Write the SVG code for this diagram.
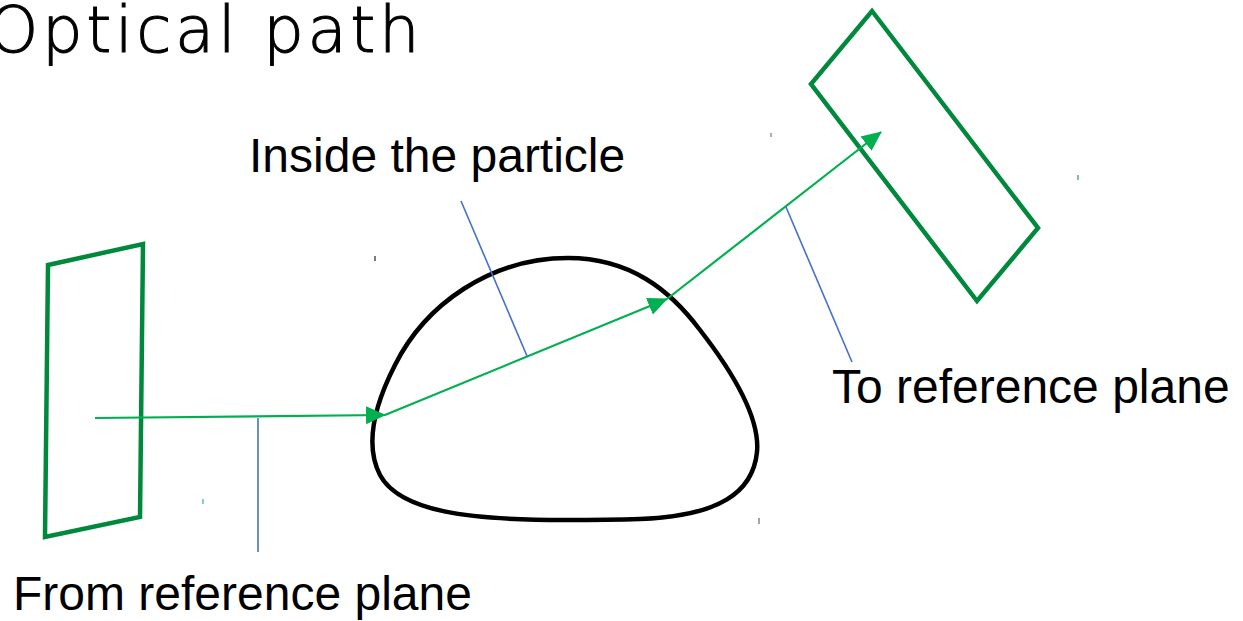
<svg xmlns="http://www.w3.org/2000/svg" width="1243" height="621" viewBox="0 0 1243 621">
<style>
.plane{fill:none;stroke:#00893C;stroke-width:4.5;stroke-linejoin:miter}
.ray{fill:none;stroke:#00B050;stroke-width:2.2}
.lead{fill:none;stroke:#4472C4;stroke-width:1.6}
.lbl{font-family:"Liberation Sans",Arial,sans-serif;font-size:48px;fill:#000}
.title{font-family:"DejaVu Sans",sans-serif;font-weight:200;font-size:64px;fill:#000;stroke:#000;stroke-width:1;letter-spacing:3.6px}
.tick{stroke-width:1.2}
</style>
<defs>
<marker id="arrow" viewBox="0 0 10 10" refX="9.5" refY="5" markerWidth="20" markerHeight="20" markerUnits="userSpaceOnUse" orient="auto">
<path d="M0,0.5 L10,5 L0,9.5 Z" fill="#00B050"/>
</marker>
</defs>
<rect width="1243" height="621" fill="#fff"/>
<text class="title" x="-12" y="52">Optical path</text>
<g id="plane-left"><polygon class="plane" points="48,265 143,244 140,517 45,537"/></g>
<g id="plane-right"><polygon class="plane" points="872,11 1038,228 977,301 811,84"/></g>
<g id="particle"><path d="M565,520 C470,520 400,512 380,475 C366,448 372,410 395,365 C425,305 490,258 568,258 C630,258 670,290 700,330 C735,375 760,420 757,452 C753,492 720,516 640,519 C610,520 590,520 565,520 Z" fill="none" stroke="#000" stroke-width="4.5"/></g>
<g id="connectors">
<line class="ray" x1="95" y1="418" x2="385" y2="415" marker-end="url(#arrow)"/>
<line class="ray" x1="385" y1="415" x2="667" y2="299" marker-end="url(#arrow)"/>
<line class="ray" x1="667" y1="299" x2="881" y2="132" marker-end="url(#arrow)"/>
<line class="lead" x1="461" y1="201" x2="527" y2="356"/>
<line class="lead" x1="258" y1="418" x2="258" y2="552"/>
<line class="lead" x1="786" y1="207" x2="852" y2="362"/>
</g>
<g id="labels">
<text class="lbl" x="249" y="172">Inside the particle</text>
<text class="lbl" x="832" y="403">To reference plane</text>
<text class="lbl" x="13" y="610">From reference plane</text>
</g>
<g id="ticks">
<line class="tick" x1="771" y1="133" x2="771" y2="137" stroke="#777"/>
<line class="tick" x1="375" y1="256" x2="375" y2="261" stroke="#222"/>
<line class="tick" x1="1078" y1="175" x2="1078" y2="180" stroke="#3a8a5a"/>
<line class="tick" x1="203" y1="499" x2="203" y2="504" stroke="#3cb371"/>
<line class="tick" x1="759" y1="518" x2="759" y2="524" stroke="#666"/>
</g>
</svg>
